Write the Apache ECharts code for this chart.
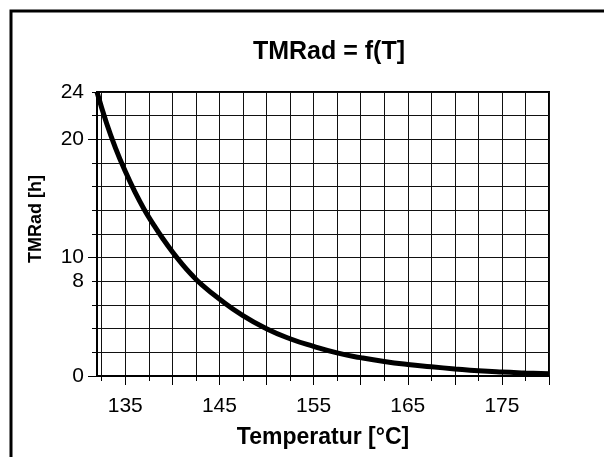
<!DOCTYPE html>
<html>
<head>
<meta charset="utf-8">
<script src="https://cdn.jsdelivr.net/npm/echarts@6/dist/echarts.min.js"></script>
<style>
html, body { margin: 0; padding: 0; background: #fff; }
#cn { width: 604px; height: 457px; }
</style>
</head>
<body>
<div id="cn"></div>
<script>
'use strict';

// temperatur [°C] / TMRad [h]
const arrTemp = [132, 133, 134, 135, 136, 137, 138, 139, 140, 141, 142, 143, 145, 147.5, 150, 152.5, 155, 157.5, 160, 162.5, 165, 167.5, 170, 172.5, 175, 177.5, 180];
const arrTmr = [24.0, 21.4, 19.2, 17.3, 15.6, 14.1, 12.8, 11.6, 10.5, 9.5, 8.6, 7.8, 6.5, 5.1, 4.0, 3.15, 2.5, 1.95, 1.55, 1.22, 0.97, 0.78, 0.6, 0.44, 0.33, 0.25, 0.18];

// ticks
const xGridTicks = [132.5, 135, 137.5, 140, 142.5, 145, 147.5, 150, 152.5, 155, 157.5, 160, 162.5, 165, 167.5, 170, 172.5, 175, 177.5, 180];
const xMajorTicks = [135, 140, 145, 150, 155, 160, 165, 170, 175, 180];
const xLabels = [135, 145, 155, 165, 175];
const yGridTicks = [0, 2, 4, 6, 8, 10, 12, 14, 16, 18, 20, 22, 24];
const yMajorTicks = [0, 10, 20];
const yLabels = [0, 8, 10, 20, 24];

const FONT = '"Liberation Sans", Arial, sans-serif';

const chart = echarts.init(document.getElementById('cn'));

const option = {
    backgroundColor: '#fff',
    animation: false,
    title: {
        text: 'TMRad = f(T]',
        left: 324,
        textAlign: 'center',
        top: 35,
        textStyle: {
            fontFamily: FONT,
            fontWeight: 'bold',
            fontSize: 25,
            color: '#000'
        }
    },
    grid: {
        left: 97,
        right: 55,
        top: 92,
        bottom: 81,
        show: true,
        borderColor: '#000',
        borderWidth: 2
    },
    xAxis: [{
            type: 'value',
            min: 132,
            max: 180,
            position: 'bottom',
            name: 'Temperatur [°C]',
            nameLocation: 'middle',
            nameGap: 50,
            nameTextStyle: {
                fontFamily: FONT,
                fontWeight: 'bold',
                fontSize: 23,
                color: '#000'
            },
            axisLine: {
                lineStyle: { color: '#000', width: 2 }
            },
            axisTick: {
                customValues: xGridTicks,
                length: 5,
                lineStyle: { color: '#000', width: 1 }
            },
            splitLine: {
                show: true,
                lineStyle: { color: '#111', width: 1 }
            },
            axisLabel: {
                customValues: xLabels,
                margin: 20,
                fontFamily: FONT,
                fontSize: 21,
                color: '#000'
            }
        },
        {
            type: 'value',
            min: 132,
            max: 180,
            position: 'bottom',
            axisLine: { show: false },
            axisTick: {
                customValues: xMajorTicks,
                length: 9,
                lineStyle: { color: '#000', width: 1 }
            },
            splitLine: { show: false },
            axisLabel: { show: false }
        }
    ],
    yAxis: [{
            type: 'value',
            min: 0,
            max: 24,
            position: 'left',
            name: 'TMRad [h]',
            nameLocation: 'middle',
            nameGap: 52,
            nameTextStyle: {
                fontFamily: FONT,
                fontWeight: 'bold',
                fontSize: 18,
                color: '#000',
                padding: [0, 0, 0, 30] // etwas nach oben
            },
            axisLine: {
                lineStyle: { color: '#000', width: 2 }
            },
            axisTick: {
                customValues: yGridTicks,
                length: 5,
                lineStyle: { color: '#000', width: 1 }
            },
            splitLine: {
                show: true,
                lineStyle: { color: '#111', width: 1 }
            },
            axisLabel: {
                customValues: yLabels,
                margin: 13,
                fontFamily: FONT,
                fontSize: 21,
                color: '#000'
            }
        },
        {
            type: 'value',
            min: 0,
            max: 24,
            position: 'left',
            axisLine: { show: false },
            axisTick: {
                customValues: yMajorTicks,
                length: 9,
                lineStyle: { color: '#000', width: 1 }
            },
            splitLine: { show: false },
            axisLabel: { show: false }
        }
    ],
    graphic: [{
        type: 'polyline',
        shape: {
            points: [[11, 470], [11, 11], [620, 11]]
        },
        style: {
            stroke: '#000',
            lineWidth: 3,
            fill: null
        },
        silent: true
    }],
    series: [{
        name: 'TMRad',
        type: 'line',
        xAxisIndex: 0,
        yAxisIndex: 0,
        data: arrTemp.map((t, i) => [t, arrTmr[i]]),
        smooth: true,
        symbol: 'none',
        showSymbol: false,
        lineStyle: {
            color: '#000',
            width: 5
        }
    }]
};

chart.setOption(option);
</script>
</body>
</html>
